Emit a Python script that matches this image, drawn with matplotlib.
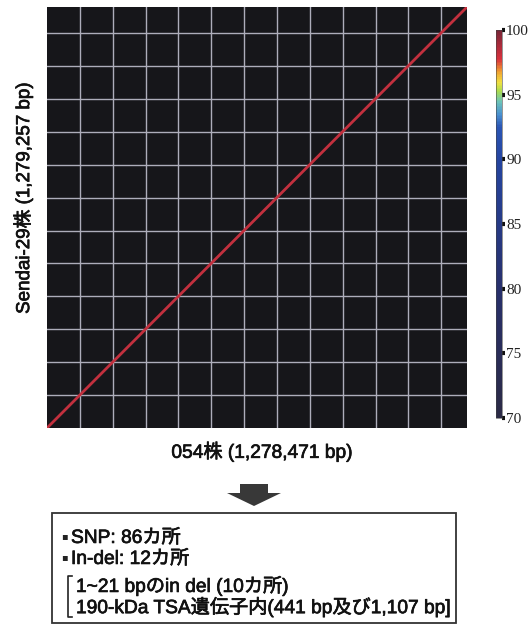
import matplotlib
matplotlib.use("Agg")
import matplotlib.pyplot as plt
import matplotlib.patheffects as pe
from matplotlib.colors import LinearSegmentedColormap, Normalize
from matplotlib.cm import ScalarMappable
from matplotlib.patches import Rectangle, Polygon
from matplotlib.lines import Line2D

W, H = 528, 625

# genome lengths (bp)
len_054 = 1278471
len_sendai = 1279257
grid_step = 100000

# identity colour scale (%)
cbar_ticks = [70, 75, 80, 85, 90, 95, 100]
cmap_stops = [70, 80, 90, 92.5, 93.5, 94.5, 95.3, 96.0, 96.8, 97.8, 100]
cmap_colors = ["#2b2a45", "#28306c", "#2545a0", "#2a55b4", "#4a90d0",
               "#6cc4b8", "#a8dc50", "#f0e040", "#f0a030", "#d8303c", "#7a2638"]

x_label = "054株 (1,278,471 bp)"
y_label = "Sendai-29株 (1,279,257 bp)"
bullet_lines = ["SNP: 86カ所", "In-del: 12カ所"]
sub_lines = ["1~21 bpのin del (10カ所)",
             "190-kDa TSA遺伝子内(441 bp及び1,107 bp]"]

FONT = ["Liberation Sans", "Noto Sans CJK JP", "DejaVu Sans"]
plt.rcParams["font.family"] = FONT

# slightly heavier strokes for the labels
heavy = [pe.withStroke(linewidth=0.5, foreground="#111111")]


def fx(x):
    return x / W


def fy(y):
    return 1 - y / H


fig = plt.figure(figsize=(W / 100, H / 100), dpi=100)

# dot plot
ax = fig.add_axes([fx(47), fy(428), 420 / W, 421 / H])
ax.set_facecolor("#16161a")
ax.set_xlim(0, len_054)
ax.set_ylim(0, len_sendai)
for g in range(grid_step, len_054, grid_step):
    ax.axvline(g, color="#adadba", lw=1.0, zorder=1)
for g in range(grid_step, len_sendai, grid_step):
    ax.axhline(g, color="#adadba", lw=1.0, zorder=1)
ax.plot([0, len_054], [0, len_sendai], color="#c2303e", lw=2.0, zorder=2)
ax.set_xticks([])
ax.set_yticks([])
for s in ax.spines.values():
    s.set_visible(False)

# colour bar
pos = [cmap_stops[0], cmap_stops[-1]]
cmap = LinearSegmentedColormap.from_list(
    "ident",
    [((v - pos[0]) / (pos[1] - pos[0]), c) for v, c in zip(cmap_stops, cmap_colors)])
cax = fig.add_axes([fx(496), fy(418), 6 / W, 388 / H])
cb = fig.colorbar(ScalarMappable(norm=Normalize(70, 100), cmap=cmap),
                  cax=cax, ticks=cbar_ticks)
cb.outline.set_linewidth(0.4)
cb.outline.set_edgecolor("#444444")
cax.tick_params(direction="out", length=2.5, width=3, color="#111111",
                labelsize=11, pad=0.5)
for t in cax.get_yticklabels():
    t.set_family("Liberation Serif")
    t.set_color("#222222")

# axis titles
fig.text(fx(262), fy(452), x_label, ha="center", va="center",
         fontsize=13.8, color="#111111", path_effects=heavy)
fig.text(fx(23), fy(198), y_label, ha="center", va="center",
         rotation=90, fontsize=13.5, color="#111111", path_effects=heavy)

# down arrow
arrow = [(240, 484), (268, 484), (268, 493), (281, 493), (254, 506),
         (227, 493), (240, 493)]
fig.patches.append(Polygon([(fx(x), fy(y)) for x, y in arrow], closed=True,
                           transform=fig.transFigure, facecolor="#383838",
                           edgecolor="none"))

# summary box
fig.patches.append(Rectangle((fx(52), fy(623)), (456 - 52) / W, (623 - 513) / H,
                             transform=fig.transFigure, facecolor="white",
                             edgecolor="#333333", lw=1.3))
for yy, txt in zip([538, 559], bullet_lines):
    fig.text(fx(61), fy(yy - 2), "▪", ha="left", va="center", fontsize=7,
             color="#222222", family="DejaVu Sans")
    fig.text(fx(71), fy(yy), txt, ha="left", va="center", fontsize=13.8,
             color="#111111", path_effects=heavy)
for yy, txt in zip([586, 607], sub_lines):
    fig.text(fx(76), fy(yy), txt, ha="left", va="center", fontsize=13.8,
             color="#111111", path_effects=heavy)
bx = [72, 68, 68, 72]
by = [576, 576, 617, 617]
fig.lines.append(Line2D([fx(x) for x in bx], [fy(y) for y in by],
                        transform=fig.transFigure, color="#222222", lw=1.2))

fig.savefig("out.png", dpi=100, facecolor="white")
